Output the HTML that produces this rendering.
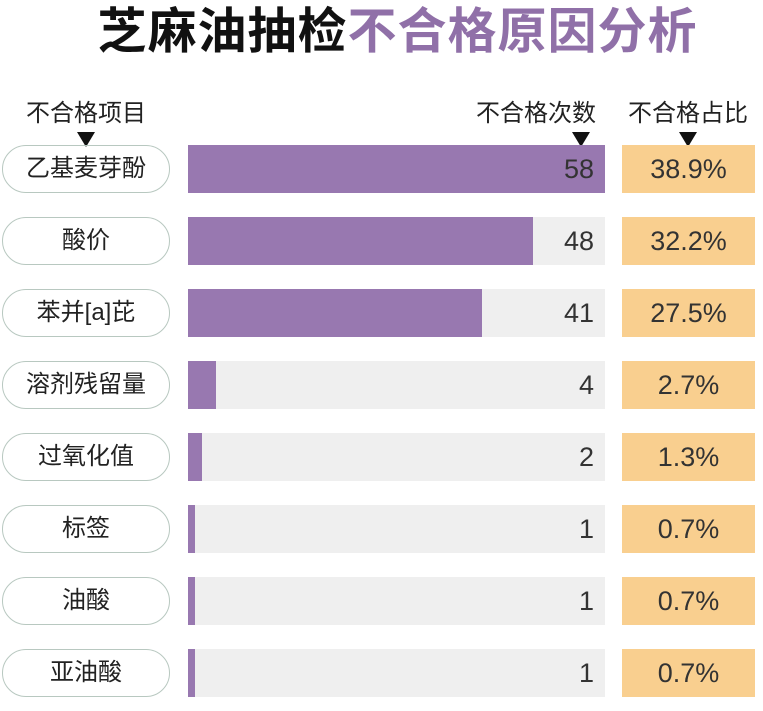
<!DOCTYPE html>
<html><head><meta charset="utf-8"><style>
body{margin:0;width:763px;height:711px;background:#fff;position:relative;overflow:hidden;font-family:"Liberation Sans","Noto Sans CJK SC",sans-serif;color:#222}
.a{position:absolute}
.t{left:16px;width:763px;top:2px;text-align:center;font-size:49px;font-weight:bold;letter-spacing:1px;line-height:60px}
.h{font-size:24px;top:99px;line-height:30px;color:#222}
.tri{width:0;height:0;border-left:9px solid transparent;border-right:9px solid transparent;border-top:15px solid #111}
.pill{left:2px;width:166px;height:46px;border:1px solid #b8c8c0;border-radius:24px;text-align:center;line-height:46px;font-size:24px}
.bg{left:188px;width:417px;height:48px;background:#efefef}
.bar{left:188px;height:48px;background:#9878b0}
.n{left:540px;width:54px;text-align:right;font-size:27px;line-height:48px;color:#333}
.p{left:622px;width:133px;height:48px;background:#f9cf8f;text-align:center;line-height:48px;font-size:27px;color:#333}
</style></head><body>
<div class="a t"><span style="color:#111">芝麻油抽检</span><span style="color:#9070a8">不合格原因分析</span></div>
<div class="a h" style="left:26px">不合格项目</div>
<div class="a h" style="left:476px">不合格次数</div>
<div class="a h" style="left:628px">不合格占比</div>
<div class="a tri" style="left:77px;top:132px"></div>
<div class="a tri" style="left:572px;top:132px"></div>
<div class="a tri" style="left:679px;top:132px"></div>

<div class="a bg" style="top:145px"></div><div class="a bar" style="top:145px;width:417px"></div>
<div class="a pill" style="top:145px">乙基麦芽酚</div><div class="a n" style="top:145px">58</div><div class="a p" style="top:145px">38.9%</div>

<div class="a bg" style="top:217px"></div><div class="a bar" style="top:217px;width:345px"></div>
<div class="a pill" style="top:217px">酸价</div><div class="a n" style="top:217px">48</div><div class="a p" style="top:217px">32.2%</div>

<div class="a bg" style="top:289px"></div><div class="a bar" style="top:289px;width:294px"></div>
<div class="a pill" style="top:289px">苯并[a]芘</div><div class="a n" style="top:289px">41</div><div class="a p" style="top:289px">27.5%</div>

<div class="a bg" style="top:361px"></div><div class="a bar" style="top:361px;width:28px"></div>
<div class="a pill" style="top:361px">溶剂残留量</div><div class="a n" style="top:361px">4</div><div class="a p" style="top:361px">2.7%</div>

<div class="a bg" style="top:433px"></div><div class="a bar" style="top:433px;width:14px"></div>
<div class="a pill" style="top:433px">过氧化值</div><div class="a n" style="top:433px">2</div><div class="a p" style="top:433px">1.3%</div>

<div class="a bg" style="top:505px"></div><div class="a bar" style="top:505px;width:7px"></div>
<div class="a pill" style="top:505px">标签</div><div class="a n" style="top:505px">1</div><div class="a p" style="top:505px">0.7%</div>

<div class="a bg" style="top:577px"></div><div class="a bar" style="top:577px;width:7px"></div>
<div class="a pill" style="top:577px">油酸</div><div class="a n" style="top:577px">1</div><div class="a p" style="top:577px">0.7%</div>

<div class="a bg" style="top:649px"></div><div class="a bar" style="top:649px;width:7px"></div>
<div class="a pill" style="top:649px">亚油酸</div><div class="a n" style="top:649px">1</div><div class="a p" style="top:649px">0.7%</div>
</body></html>
